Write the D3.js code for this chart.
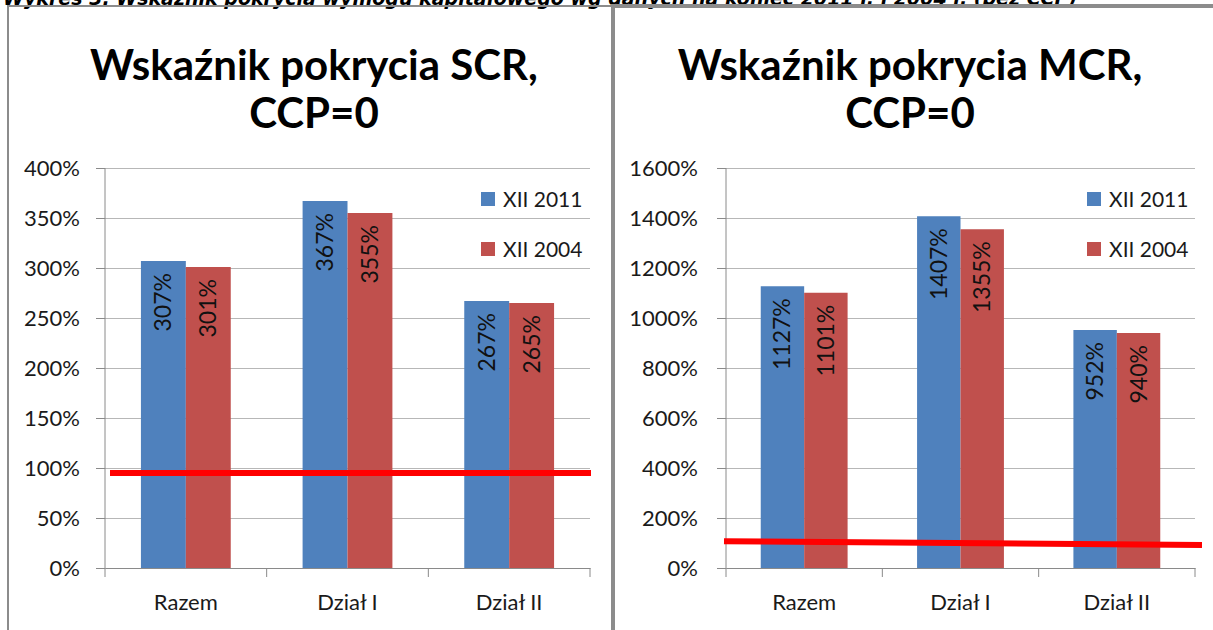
<!DOCTYPE html>
<html>
<head>
<meta charset="utf-8">
<script src="https://cdn.jsdelivr.net/npm/d3@7/dist/d3.min.js"></script>
<style>
  body { margin: 0; background: #fff; }
  svg { display: block; }
  text { font-family: Lato, "Open Sans", sans-serif; fill: #1a1a1a; }
</style>
</head>
<body>
<svg id="chart" width="1213" height="630"></svg>
<script>
// data
var categories = ['Razem', 'Dział I', 'Dział II'];
var seriesNames = ['XII 2011', 'XII 2004'];
var seriesColors = ['#4f81bd', '#c0504d'];
var scr2011 = [307, 367, 267];
var scr2004 = [301, 355, 265];
var mcr2011 = [1127, 1407, 952];
var mcr2004 = [1101, 1355, 940];
var scrLimit = [95, 95];     // red threshold line, start / end
var mcrLimit = [107, 92];
var scrTicks = [0, 50, 100, 150, 200, 250, 300, 350, 400];
var mcrTicks = [0, 200, 400, 600, 800, 1000, 1200, 1400, 1600];

var app = {};
app.svg = d3.select('#chart');
app.grid = '#b7b7b7';
app.axis = '#8a8a8a';

// header, mostly cut off at the top edge (as in the source image)
app.svg.append('text')
  .attr('x', 3).attr('y', 5)
  .style('font-family', '"DejaVu Sans", sans-serif')
  .style('font-weight', 'bold').style('font-style', 'italic')
  .style('font-size', '19px').style('fill', '#000')
  .text('Wykres 3. Wskaźnik pokrycia wymogu kapitałowego wg danych na koniec 2011 r. i 2004 r. (bez CCP)');

// panel frames
app.svg.append('path')
  .attr('d', 'M8,640 V6 H612 V640')
  .style('fill', 'none').style('stroke', '#8c8c8c').style('stroke-width', 2);
app.svg.append('path')
  .attr('d', 'M613,640 V6 H1220')
  .style('fill', 'none').style('stroke', '#8c8c8c').style('stroke-width', 4);

app.panel = function(opt){
  var g = app.svg.append('g');
  var y = d3.scaleLinear().domain([0, opt.max]).range([568, 168]);
  var x = d3.scaleBand().domain(categories).range([opt.x0, opt.x1]);
  var x2 = d3.scaleBand().domain(seriesNames).range([0, x.bandwidth()]).paddingOuter(0.8);

  // title
  g.append('text').attr('x', opt.tx).attr('y', 80)
    .attr('text-anchor', 'middle')
    .style('font-size', '42px').style('font-weight', 'bold').style('fill', '#000')
    .text(opt.title);
  g.append('text').attr('x', opt.tx).attr('y', 128)
    .attr('text-anchor', 'middle')
    .style('font-size', '42px').style('font-weight', 'bold').style('fill', '#000')
    .text('CCP=0');

  // gridlines + y labels
  var ya = g.append('g').attr('transform', 'translate(' + opt.x0 + ',0)')
    .call(d3.axisLeft(y).tickValues(opt.ticks).tickSize(-(opt.x1 - opt.x0))
      .tickPadding(opt.pad).tickFormat(function(d){ return d + '%'; }));
  ya.select('.domain').remove();
  ya.selectAll('line').style('stroke', app.grid);
  ya.selectAll('text').style('font-size', '22px').style('fill', '#1a1a1a')
    .style('font-family', 'Lato, sans-serif');
  ya.selectAll('.tick').append('line')
    .attr('x1', -9).attr('x2', 0).style('stroke', app.axis);

  // bars
  var series = [opt.a, opt.b];
  series.forEach(function(vals, si){
    g.selectAll('.bar' + si)
      .data(vals)
      .enter().append('rect')
      .attr('x', function(d, i){ return x(categories[i]) + x2(seriesNames[si]); })
      .attr('width', x2.bandwidth())
      .attr('y', function(d){ return y(d); })
      .attr('height', function(d){ return y(0) - y(d); })
      .style('fill', seriesColors[si]);
    g.selectAll('.lab' + si)
      .data(vals)
      .enter().append('text')
      .attr('transform', function(d, i){
        var cx = x(categories[i]) + x2(seriesNames[si]) + x2.bandwidth() / 2 + 8;
        return 'translate(' + cx + ',' + (y(d) + 12) + ') rotate(-90)';
      })
      .attr('text-anchor', 'end')
      .style('font-size', '23px').style('fill', '#111')
      .text(function(d){ return d + '%'; });
  });

  // axes lines
  g.append('line').attr('x1', opt.x0).attr('x2', opt.x0)
    .attr('y1', 168).attr('y2', 568).style('stroke', app.axis);
  var xa = g.append('g').attr('transform', 'translate(0,568)')
    .call(d3.axisBottom(x).tickSize(0).tickPadding(26));
  xa.select('.domain').style('stroke', app.axis);
  xa.selectAll('text').style('font-size', '22px').style('fill', '#1a1a1a')
    .style('font-family', 'Lato, sans-serif');
  var edges = categories.map(function(c){ return x(c); }).concat([opt.x1]);
  g.selectAll('.xt').data(edges).enter().append('line')
    .attr('x1', function(d){ return d; }).attr('x2', function(d){ return d; })
    .attr('y1', 568).attr('y2', 577).style('stroke', app.axis);

  // red threshold line
  g.append('line')
    .attr('x1', opt.lx0).attr('x2', opt.lx1)
    .attr('y1', y(opt.limit[0])).attr('y2', y(opt.limit[1]))
    .style('stroke', '#ff0000').style('stroke-width', 6);

  // legend
  seriesNames.forEach(function(n, i){
    g.append('rect').attr('x', opt.lgx).attr('y', 192 + i * 50)
      .attr('width', 14).attr('height', 14).style('fill', seriesColors[i]);
    g.append('text').attr('x', opt.lgx + 22).attr('y', 207 + i * 50)
      .style('font-size', '21px').style('fill', '#1a1a1a').text(n);
  });
};

app.panel({ title: 'Wskaźnik pokrycia SCR,', tx: 314, x0: 105, x1: 590, max: 400, pad: 25,
  ticks: scrTicks, a: scr2011, b: scr2004, limit: scrLimit, lx0: 110, lx1: 591, lgx: 481 });
app.panel({ title: 'Wskaźnik pokrycia MCR,', tx: 910, x0: 726, x1: 1195, max: 1600, pad: 28,
  ticks: mcrTicks, a: mcr2011, b: mcr2004, limit: mcrLimit, lx0: 724, lx1: 1202, lgx: 1087 });
</script>
</body>
</html>
